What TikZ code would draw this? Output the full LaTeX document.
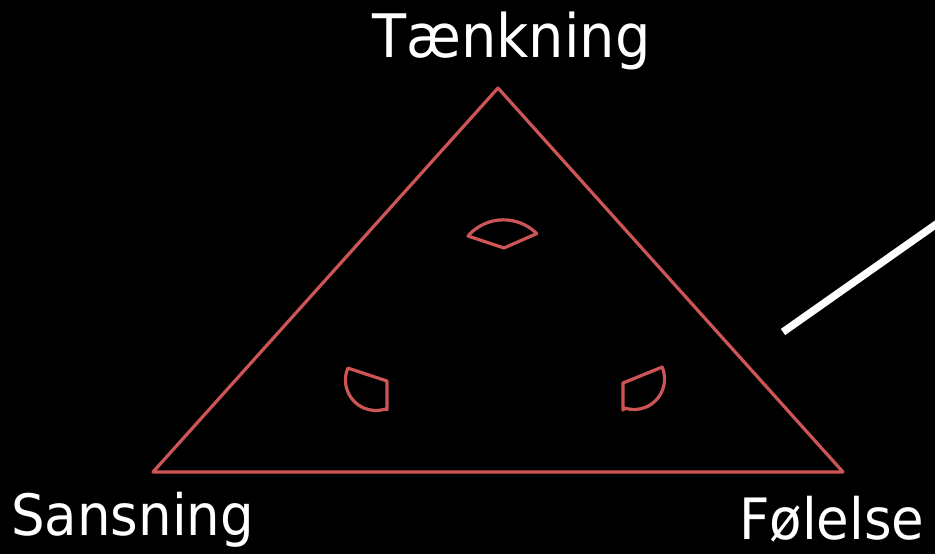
\documentclass[tikz,border=0pt]{standalone}
\usepackage{fontspec}
\newfontfamily\lab[FakeStretch=0.93]{DejaVu Sans}
\definecolor{tri}{RGB}{205,85,85}
\begin{document}
\begin{tikzpicture}[x=1pt,y=-1pt,
  redline/.style={draw=tri,line width=3.2pt,line join=round},
  lbl/.style={text=white,inner sep=0pt,anchor=base west,font=\lab}]
\fill[black] (0,0) rectangle (935,554);
\useasboundingbox (0,0) rectangle (935,554);
% triangle
\coordinate (T) at (498,88);
\coordinate (S) at (153,472);
\coordinate (F) at (843,472);
\draw[redline] (T) -- (S) -- (F) -- cycle;
% sectors
\coordinate (c1) at (504,248);
\draw[redline] (c1) -- (468,236) arc[start angle=221,end angle=315,radius=47] -- cycle;
\coordinate (c2) at (387,381);
\draw[redline] (c2) -- (347.9,368.1) arc[start angle=203,end angle=73,radius=30.5] -- (387,409.5) -- cycle;
\coordinate (c3) at (623,383);
\draw[redline] (c3) -- (662.1,367.1) arc[start angle=-23,end angle=107,radius=30.5] -- (623,410) -- cycle;
% white line
\coordinate (w1) at (783,332);
\coordinate (w2) at (945,218);
\draw[white,line width=7.5pt] (w1) -- (w2);
% labels
\node[lbl,font=\lab\fontsize{60}{70}\selectfont] (tk) at (372,57) {Tænkning};
\node[lbl,font=\lab\fontsize{57}{68}\selectfont] (sa) at (11,535) {Sansning};
\node[lbl,font=\lab\fontsize{57}{68}\selectfont] (fo) at (739,539) {Følelse};
\end{tikzpicture}
\end{document}
